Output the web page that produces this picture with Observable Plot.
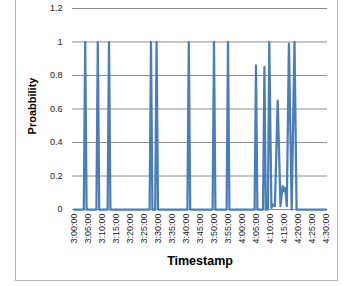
<!DOCTYPE html>
<html><head><meta charset="utf-8">
<script src="https://cdn.jsdelivr.net/npm/d3@7"></script>
<script src="https://cdn.jsdelivr.net/npm/@observablehq/plot@0.6"></script>
<style>
body{margin:0;background:#fff;}
#wrap{position:relative;width:355px;height:286px;overflow:hidden;}
#border{position:absolute;left:15px;top:-10px;width:323px;height:291px;box-sizing:border-box;border:1px solid #b5b5b5;}
#chart{position:absolute;left:0;top:0;}
</style></head><body>
<div id="wrap"><div id="border"></div><div id="chart"></div></div>
<script>
const times = ["3:00:00","3:03:30","3:04:00","3:04:30","3:08:00","3:08:30","3:09:00","3:12:00","3:12:30","3:13:00",
  "3:27:00","3:27:30","3:28:00","3:29:00","3:29:30","3:30:00","3:40:30","3:41:00","3:41:30",
  "3:49:30","3:50:00","3:50:30","3:54:30","3:55:00","3:55:30","4:04:30","4:05:00","4:05:30",
  "4:07:30","4:08:00","4:08:30","4:09:15","4:09:45","4:10:30","4:11:15","4:11:45","4:12:45",
  "4:13:45","4:14:30","4:15:00","4:15:30","4:16:00","4:16:45","4:17:45","4:18:45","4:19:30","4:30:00"];
const probs = [0,0,1,0,0,1,0,0,1,0,
  0,1,0,0,1,0,0,1,0,
  0,1,0,0,1,0,0,0.86,0,
  0,0.85,0,0,1,0.01,0.03,0.02,0.65,
  0.02,0.14,0.11,0.13,0.02,0.99,0,1,0,0];
const xTickLabels = ["3:00:00","3:05:00","3:10:00","3:15:00","3:20:00","3:25:00","3:30:00","3:35:00","3:40:00","3:45:00",
  "3:50:00","3:55:00","4:00:00","4:05:00","4:10:00","4:15:00","4:20:00","4:25:00","4:30:00"];
const yTicks = [0,0.2,0.4,0.6,0.8,1,1.2];
const yTickLabels = ["0","0.2","0.4","0.6","0.8","1","1.2"];
const xTitle = "Timestamp";
const yTitle = "Proabbility";

const toSec = s => { const [h,m,sec] = s.split(":").map(Number); return h*3600+m*60+sec; };
const data = times.map((t,i)=>({t: toSec(t), p: probs[i]}));
const xTicks = xTickLabels.map(toSec);

const chart = Plot.plot({
  width:355, height:286, marginLeft:72, marginRight:28, marginTop:8, marginBottom:77,
  style:{fontFamily:"'Liberation Sans', Arial, sans-serif", fontSize:"9px", color:"#222", background:"transparent", overflow:"visible"},
  x:{type:"linear", domain:[xTicks[0], xTicks[xTicks.length-1]], range:[73.5,325.5], ticks:xTicks,
     tickFormat:d => xTickLabels[xTicks.indexOf(d)], tickRotate:-90, tickSize:0, tickPadding:4, label:null},
  y:{domain:[0,1.2], ticks:yTicks, tickFormat:d => yTickLabels[yTicks.indexOf(d)], tickSize:0, tickPadding:10, label:null},
  marks:[
    Plot.ruleY(yTicks, {stroke:"#8c8c8c", strokeWidth:1}),
    Plot.line(data, {x:"t", y:"p", stroke:"#4A7EBB", strokeWidth:2.25, strokeLinejoin:"round"}),
    Plot.text([yTitle], {frameAnchor:"left", dx:-40, dy:-3, rotate:-90, textAnchor:"middle", lineAnchor:"middle", fontWeight:"bold", fontSize:11, fill:"#000"}),
    Plot.text([xTitle], {frameAnchor:"bottom", dy:51, textAnchor:"middle", lineAnchor:"middle", fontWeight:"bold", fontSize:12.5, fill:"#000"})
  ]
});
document.getElementById("chart").appendChild(chart);
</script>
</body></html>
